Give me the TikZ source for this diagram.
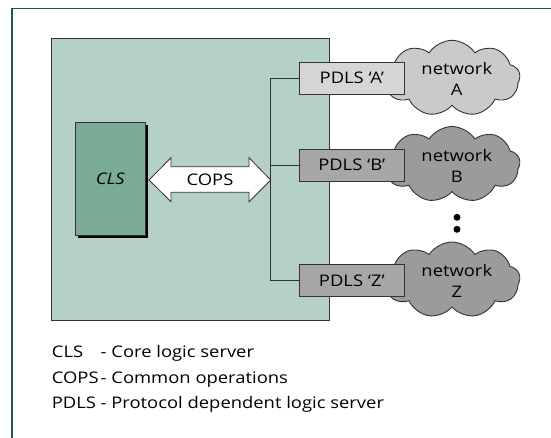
\documentclass[tikz,border=0pt]{standalone}
\usepackage{fontspec}
\setmainfont{Open Sans}[FakeStretch=1.15]
\usetikzlibrary{shapes.symbols,shadows,positioning}

\definecolor{framegreen}{HTML}{1B5E3E}
\definecolor{panelgreen}{HTML}{B5D0C6}
\definecolor{clsgreen}{HTML}{7AAB97}
\definecolor{pdlslight}{HTML}{D6D6D6}
\definecolor{pdlsdark}{HTML}{A7A7A9}
\definecolor{cloudlight}{HTML}{CACACA}
\definecolor{clouddark}{HTML}{9B9B9B}
\definecolor{edgegrey}{HTML}{333333}

\tikzset{
  labelfont/.style={font=\fontsize{16}{21}\selectfont},
  pdlsbox/.style={draw=edgegrey, line width=0.9, minimum width=105, minimum height=31.7, inner sep=0, labelfont},
  netcloud/.style={cloud, cloud puffs=9, cloud puff arc=115, aspect=1.8, draw=edgegrey, line width=0.9, minimum width=136, minimum height=76, inner sep=0},
  nettext/.style={align=center, inner sep=0, labelfont},
  legendtext/.style={anchor=base west, inner sep=0, labelfont},
  busline/.style={draw=edgegrey, line width=1}
}

\begin{document}
\begin{tikzpicture}[x=1pt,y=-1pt]
\useasboundingbox (0,0) rectangle (551,438);

%Frame
\draw[framegreen, line width=1.6] (11.7,438) -- (11.7,8.7) -- (551,8.7);

%Panel
\node[draw=edgegrey, fill=panelgreen, line width=0.9, minimum width=277.3, minimum height=281.7, inner sep=0] (panel) at (190.3,179.2) {};

%CLS box
\node[draw=edgegrey, fill=clsgreen, line width=0.9, minimum width=70.7, minimum height=112.7, inner sep=0,
  font=\fontsize{16}{21}\selectfont\itshape,
  drop shadow={shadow xshift=2.7, shadow yshift=2.7, opacity=1, fill=black}] (cls) at (110.3,178.7) {CLS};

%Clouds
\node[netcloud, fill=cloudlight] (cloudA) at (452,78.3) {};
\node[netcloud, fill=clouddark] (cloudB) at (452,164.5) {};
\node[netcloud, fill=clouddark] (cloudZ) at (452,280) {};
\node[nettext] (netA) at (456.8,79.4) {network\\A};
\node[nettext] (netB) at (456.8,165.6) {network\\B};
\node[nettext] (netZ) at (456.8,281.1) {network\\Z};

%PDLS boxes
\node[pdlsbox, fill=pdlslight] (pdlsA) at (351.8,78.2) {PDLS ‘A’};
\node[pdlsbox, fill=pdlsdark] (pdlsB) at (351.8,165.2) {PDLS ‘B’};
\node[pdlsbox, fill=pdlsdark] (pdlsZ) at (351.8,280.5) {PDLS ‘Z’};

%Bus
\coordinate (bus) at (270.7,180);
\draw[busline] (pdlsA.west) -| (bus) |- (pdlsZ.west);
\draw[busline] (pdlsB.west) -- (pdlsB.west -| bus);

%COPS arrow
\draw[edgegrey, fill=white, line width=0.8] (149,180) -- (171,157.7) -- (171,166.7) -- (249,166.7) -- (249,157.7) -- (bus)
  -- (249,201.7) -- (249,192.3) -- (171,192.3) -- (171,201.7) -- cycle;
\node[inner sep=0, labelfont] (cops) at (210,180) {COPS};

%Dots
\fill (457,217.3) circle (3.5);
\fill (457,229.3) circle (3.5);

%Legend
\node[legendtext] (keyCLS) at (51.7,357.5) {CLS};
\node[legendtext] (keyCOPS) at (51.7,383.3) {COPS};
\node[legendtext] (keyPDLS) at (51.7,408.7) {PDLS};
\node[legendtext] (descCLS) at (100.5,357.5) {- Core logic server};
\node[legendtext] (descCOPS) at (100.5,383.3) {- Common operations};
\node[legendtext] (descPDLS) at (100.5,408.7) {- Protocol dependent logic server};

\end{tikzpicture}
\end{document}
